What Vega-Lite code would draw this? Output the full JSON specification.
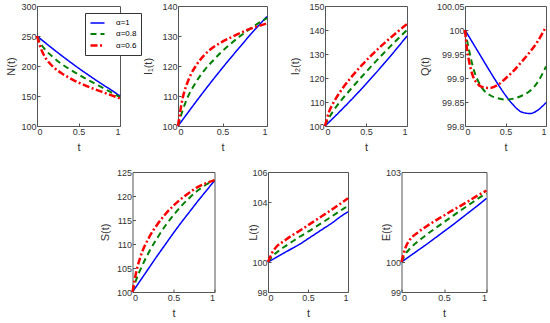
{
"$schema": "https://vega.github.io/schema/vega-lite/v6.json",
"padding": {"left": 4, "top": 1, "right": 2, "bottom": 2},
"background": "white",
"config": {
 "font": "Liberation Sans",
 "view": {"stroke": "#555", "strokeWidth": 1},
 "axis": {"domain": false, "grid": false, "ticks": true, "tickSize": -3, "tickColor": "#555", "labelFontSize": 9, "labelColor": "#333", "labelPadding": 4, "titleFontSize": 11, "titleFontWeight": "normal", "titleColor": "#333", "titlePadding": 5, "labelFont": "Liberation Sans", "titleFont": "Liberation Sans"}
},
"data": {"values": [
{"p":"N","a":"α=1","t":0,"v":250},{"p":"N","a":"α=1","t":0.1,"v":238.7},{"p":"N","a":"α=1","t":0.2,"v":227.7},{"p":"N","a":"α=1","t":0.3,"v":217},{"p":"N","a":"α=1","t":0.4,"v":206.6},{"p":"N","a":"α=1","t":0.5,"v":196.5},{"p":"N","a":"α=1","t":0.6,"v":186.8},{"p":"N","a":"α=1","t":0.7,"v":177.4},{"p":"N","a":"α=1","t":0.8,"v":168.3},{"p":"N","a":"α=1","t":0.9,"v":159.5},{"p":"N","a":"α=1","t":1,"v":150},
{"p":"N","a":"α=0.8","t":0,"v":250},{"p":"N","a":"α=0.8","t":0.05,"v":236},{"p":"N","a":"α=0.8","t":0.1,"v":227},{"p":"N","a":"α=0.8","t":0.2,"v":214},{"p":"N","a":"α=0.8","t":0.3,"v":203},{"p":"N","a":"α=0.8","t":0.4,"v":194},{"p":"N","a":"α=0.8","t":0.5,"v":186},{"p":"N","a":"α=0.8","t":0.6,"v":178},{"p":"N","a":"α=0.8","t":0.7,"v":170.5},{"p":"N","a":"α=0.8","t":0.8,"v":163},{"p":"N","a":"α=0.8","t":0.9,"v":155.5},{"p":"N","a":"α=0.8","t":1,"v":148},
{"p":"N","a":"α=0.6","t":0,"v":250},{"p":"N","a":"α=0.6","t":0.05,"v":228},{"p":"N","a":"α=0.6","t":0.1,"v":214},{"p":"N","a":"α=0.6","t":0.15,"v":205},{"p":"N","a":"α=0.6","t":0.2,"v":198},{"p":"N","a":"α=0.6","t":0.3,"v":187.5},{"p":"N","a":"α=0.6","t":0.4,"v":179.5},{"p":"N","a":"α=0.6","t":0.5,"v":172.5},{"p":"N","a":"α=0.6","t":0.6,"v":166.5},{"p":"N","a":"α=0.6","t":0.7,"v":161},{"p":"N","a":"α=0.6","t":0.8,"v":156},{"p":"N","a":"α=0.6","t":0.9,"v":151},{"p":"N","a":"α=0.6","t":1,"v":146},

{"p":"I1","a":"α=1","t":0,"v":100},{"p":"I1","a":"α=1","t":0.1,"v":104},{"p":"I1","a":"α=1","t":0.2,"v":108},{"p":"I1","a":"α=1","t":0.3,"v":111.9},{"p":"I1","a":"α=1","t":0.4,"v":115.7},{"p":"I1","a":"α=1","t":0.5,"v":119.4},{"p":"I1","a":"α=1","t":0.6,"v":123},{"p":"I1","a":"α=1","t":0.7,"v":126.5},{"p":"I1","a":"α=1","t":0.8,"v":130},{"p":"I1","a":"α=1","t":0.9,"v":133.3},{"p":"I1","a":"α=1","t":1,"v":136.5},
{"p":"I1","a":"α=0.8","t":0,"v":100},{"p":"I1","a":"α=0.8","t":0.05,"v":105},{"p":"I1","a":"α=0.8","t":0.1,"v":109},{"p":"I1","a":"α=0.8","t":0.2,"v":114.5},{"p":"I1","a":"α=0.8","t":0.3,"v":118.7},{"p":"I1","a":"α=0.8","t":0.4,"v":122},{"p":"I1","a":"α=0.8","t":0.5,"v":125},{"p":"I1","a":"α=0.8","t":0.6,"v":127.6},{"p":"I1","a":"α=0.8","t":0.7,"v":130},{"p":"I1","a":"α=0.8","t":0.8,"v":132.2},{"p":"I1","a":"α=0.8","t":0.9,"v":134.2},{"p":"I1","a":"α=0.8","t":1,"v":136},
{"p":"I1","a":"α=0.6","t":0,"v":100},{"p":"I1","a":"α=0.6","t":0.05,"v":109},{"p":"I1","a":"α=0.6","t":0.1,"v":114},{"p":"I1","a":"α=0.6","t":0.15,"v":117.5},{"p":"I1","a":"α=0.6","t":0.2,"v":120},{"p":"I1","a":"α=0.6","t":0.3,"v":123.8},{"p":"I1","a":"α=0.6","t":0.4,"v":126.3},{"p":"I1","a":"α=0.6","t":0.5,"v":128.1},{"p":"I1","a":"α=0.6","t":0.6,"v":129.6},{"p":"I1","a":"α=0.6","t":0.7,"v":131},{"p":"I1","a":"α=0.6","t":0.8,"v":132.3},{"p":"I1","a":"α=0.6","t":0.9,"v":133.3},{"p":"I1","a":"α=0.6","t":1,"v":134.2},

{"p":"I2","a":"α=1","t":0,"v":100},{"p":"I2","a":"α=1","t":0.1,"v":103.3},{"p":"I2","a":"α=1","t":0.2,"v":106.7},{"p":"I2","a":"α=1","t":0.3,"v":110.2},{"p":"I2","a":"α=1","t":0.4,"v":113.8},{"p":"I2","a":"α=1","t":0.5,"v":117.5},{"p":"I2","a":"α=1","t":0.6,"v":121.3},{"p":"I2","a":"α=1","t":0.7,"v":125.2},{"p":"I2","a":"α=1","t":0.8,"v":129.2},{"p":"I2","a":"α=1","t":0.9,"v":133.3},{"p":"I2","a":"α=1","t":1,"v":137.5},
{"p":"I2","a":"α=0.8","t":0,"v":100},{"p":"I2","a":"α=0.8","t":0.05,"v":103.5},{"p":"I2","a":"α=0.8","t":0.1,"v":106.2},{"p":"I2","a":"α=0.8","t":0.2,"v":110.8},{"p":"I2","a":"α=0.8","t":0.3,"v":114.8},{"p":"I2","a":"α=0.8","t":0.4,"v":118.7},{"p":"I2","a":"α=0.8","t":0.5,"v":122.5},{"p":"I2","a":"α=0.8","t":0.6,"v":126.2},{"p":"I2","a":"α=0.8","t":0.7,"v":129.8},{"p":"I2","a":"α=0.8","t":0.8,"v":133.3},{"p":"I2","a":"α=0.8","t":0.9,"v":136.7},{"p":"I2","a":"α=0.8","t":1,"v":140},
{"p":"I2","a":"α=0.6","t":0,"v":100},{"p":"I2","a":"α=0.6","t":0.05,"v":106},{"p":"I2","a":"α=0.6","t":0.1,"v":109.5},{"p":"I2","a":"α=0.6","t":0.2,"v":115},{"p":"I2","a":"α=0.6","t":0.3,"v":119.5},{"p":"I2","a":"α=0.6","t":0.4,"v":123.5},{"p":"I2","a":"α=0.6","t":0.5,"v":127.2},{"p":"I2","a":"α=0.6","t":0.6,"v":130.6},{"p":"I2","a":"α=0.6","t":0.7,"v":133.8},{"p":"I2","a":"α=0.6","t":0.8,"v":136.8},{"p":"I2","a":"α=0.6","t":0.9,"v":139.7},{"p":"I2","a":"α=0.6","t":1,"v":142.5},

{"p":"Q","a":"α=1","t":0,"v":100},{"p":"Q","a":"α=1","t":0.1,"v":99.972},{"p":"Q","a":"α=1","t":0.2,"v":99.944},{"p":"Q","a":"α=1","t":0.3,"v":99.916},{"p":"Q","a":"α=1","t":0.4,"v":99.889},{"p":"Q","a":"α=1","t":0.5,"v":99.864},{"p":"Q","a":"α=1","t":0.6,"v":99.843},{"p":"Q","a":"α=1","t":0.7,"v":99.829},{"p":"Q","a":"α=1","t":0.8,"v":99.826},{"p":"Q","a":"α=1","t":0.9,"v":99.833},{"p":"Q","a":"α=1","t":1,"v":99.849},
{"p":"Q","a":"α=0.8","t":0,"v":100},{"p":"Q","a":"α=0.8","t":0.05,"v":99.958},{"p":"Q","a":"α=0.8","t":0.1,"v":99.922},{"p":"Q","a":"α=0.8","t":0.2,"v":99.882},{"p":"Q","a":"α=0.8","t":0.3,"v":99.865},{"p":"Q","a":"α=0.8","t":0.4,"v":99.858},{"p":"Q","a":"α=0.8","t":0.5,"v":99.855},{"p":"Q","a":"α=0.8","t":0.6,"v":99.857},{"p":"Q","a":"α=0.8","t":0.7,"v":99.863},{"p":"Q","a":"α=0.8","t":0.8,"v":99.873},{"p":"Q","a":"α=0.8","t":0.9,"v":99.892},{"p":"Q","a":"α=0.8","t":1,"v":99.924},
{"p":"Q","a":"α=0.6","t":0,"v":100},{"p":"Q","a":"α=0.6","t":0.025,"v":99.96},{"p":"Q","a":"α=0.6","t":0.05,"v":99.935},{"p":"Q","a":"α=0.6","t":0.1,"v":99.903},{"p":"Q","a":"α=0.6","t":0.15,"v":99.889},{"p":"Q","a":"α=0.6","t":0.2,"v":99.882},{"p":"Q","a":"α=0.6","t":0.3,"v":99.879},{"p":"Q","a":"α=0.6","t":0.4,"v":99.885},{"p":"Q","a":"α=0.6","t":0.5,"v":99.899},{"p":"Q","a":"α=0.6","t":0.6,"v":99.915},{"p":"Q","a":"α=0.6","t":0.7,"v":99.934},{"p":"Q","a":"α=0.6","t":0.8,"v":99.954},{"p":"Q","a":"α=0.6","t":0.9,"v":99.977},{"p":"Q","a":"α=0.6","t":1,"v":100.007},

{"p":"S","a":"α=1","t":0,"v":100},{"p":"S","a":"α=1","t":0.1,"v":102.5},{"p":"S","a":"α=1","t":0.2,"v":105},{"p":"S","a":"α=1","t":0.3,"v":107.5},{"p":"S","a":"α=1","t":0.4,"v":109.9},{"p":"S","a":"α=1","t":0.5,"v":112.3},{"p":"S","a":"α=1","t":0.6,"v":114.6},{"p":"S","a":"α=1","t":0.7,"v":116.8},{"p":"S","a":"α=1","t":0.8,"v":119},{"p":"S","a":"α=1","t":0.9,"v":121.1},{"p":"S","a":"α=1","t":1,"v":123.2},
{"p":"S","a":"α=0.8","t":0,"v":100},{"p":"S","a":"α=0.8","t":0.05,"v":102.8},{"p":"S","a":"α=0.8","t":0.1,"v":104.8},{"p":"S","a":"α=0.8","t":0.2,"v":108.3},{"p":"S","a":"α=0.8","t":0.3,"v":111.2},{"p":"S","a":"α=0.8","t":0.4,"v":113.8},{"p":"S","a":"α=0.8","t":0.5,"v":116},{"p":"S","a":"α=0.8","t":0.6,"v":118},{"p":"S","a":"α=0.8","t":0.7,"v":119.7},{"p":"S","a":"α=0.8","t":0.8,"v":121.2},{"p":"S","a":"α=0.8","t":0.9,"v":122.4},{"p":"S","a":"α=0.8","t":1,"v":123.3},
{"p":"S","a":"α=0.6","t":0,"v":100},{"p":"S","a":"α=0.6","t":0.05,"v":104.5},{"p":"S","a":"α=0.6","t":0.1,"v":107.5},{"p":"S","a":"α=0.6","t":0.2,"v":111.3},{"p":"S","a":"α=0.6","t":0.3,"v":114},{"p":"S","a":"α=0.6","t":0.4,"v":116.2},{"p":"S","a":"α=0.6","t":0.5,"v":118},{"p":"S","a":"α=0.6","t":0.6,"v":119.5},{"p":"S","a":"α=0.6","t":0.7,"v":120.8},{"p":"S","a":"α=0.6","t":0.8,"v":121.9},{"p":"S","a":"α=0.6","t":0.9,"v":122.7},{"p":"S","a":"α=0.6","t":1,"v":123.3},

{"p":"L","a":"α=1","t":0,"v":100},{"p":"L","a":"α=1","t":0.1,"v":100.3},{"p":"L","a":"α=1","t":0.2,"v":100.6},{"p":"L","a":"α=1","t":0.3,"v":100.9},{"p":"L","a":"α=1","t":0.4,"v":101.2},{"p":"L","a":"α=1","t":0.5,"v":101.55},{"p":"L","a":"α=1","t":0.6,"v":101.9},{"p":"L","a":"α=1","t":0.7,"v":102.25},{"p":"L","a":"α=1","t":0.8,"v":102.6},{"p":"L","a":"α=1","t":0.9,"v":103},{"p":"L","a":"α=1","t":1,"v":103.35},
{"p":"L","a":"α=0.8","t":0,"v":100},{"p":"L","a":"α=0.8","t":0.05,"v":100.35},{"p":"L","a":"α=0.8","t":0.1,"v":100.6},{"p":"L","a":"α=0.8","t":0.2,"v":101},{"p":"L","a":"α=0.8","t":0.3,"v":101.35},{"p":"L","a":"α=0.8","t":0.4,"v":101.7},{"p":"L","a":"α=0.8","t":0.5,"v":102.02},{"p":"L","a":"α=0.8","t":0.6,"v":102.36},{"p":"L","a":"α=0.8","t":0.7,"v":102.7},{"p":"L","a":"α=0.8","t":0.8,"v":103.05},{"p":"L","a":"α=0.8","t":0.9,"v":103.4},{"p":"L","a":"α=0.8","t":1,"v":103.75},
{"p":"L","a":"α=0.6","t":0,"v":100},{"p":"L","a":"α=0.6","t":0.05,"v":100.6},{"p":"L","a":"α=0.6","t":0.1,"v":100.98},{"p":"L","a":"α=0.6","t":0.2,"v":101.4},{"p":"L","a":"α=0.6","t":0.3,"v":101.77},{"p":"L","a":"α=0.6","t":0.4,"v":102.1},{"p":"L","a":"α=0.6","t":0.5,"v":102.45},{"p":"L","a":"α=0.6","t":0.6,"v":102.8},{"p":"L","a":"α=0.6","t":0.7,"v":103.15},{"p":"L","a":"α=0.6","t":0.8,"v":103.5},{"p":"L","a":"α=0.6","t":0.9,"v":103.87},{"p":"L","a":"α=0.6","t":1,"v":104.25},

{"p":"E","a":"α=1","t":0,"v":100},{"p":"E","a":"α=1","t":0.1,"v":100.2},{"p":"E","a":"α=1","t":0.2,"v":100.4},{"p":"E","a":"α=1","t":0.3,"v":100.6},{"p":"E","a":"α=1","t":0.4,"v":100.81},{"p":"E","a":"α=1","t":0.5,"v":101.02},{"p":"E","a":"α=1","t":0.6,"v":101.23},{"p":"E","a":"α=1","t":0.7,"v":101.45},{"p":"E","a":"α=1","t":0.8,"v":101.67},{"p":"E","a":"α=1","t":0.9,"v":101.89},{"p":"E","a":"α=1","t":1,"v":102.12},
{"p":"E","a":"α=0.8","t":0,"v":100},{"p":"E","a":"α=0.8","t":0.05,"v":100.28},{"p":"E","a":"α=0.8","t":0.1,"v":100.45},{"p":"E","a":"α=0.8","t":0.2,"v":100.7},{"p":"E","a":"α=0.8","t":0.3,"v":100.92},{"p":"E","a":"α=0.8","t":0.4,"v":101.13},{"p":"E","a":"α=0.8","t":0.5,"v":101.33},{"p":"E","a":"α=0.8","t":0.6,"v":101.53},{"p":"E","a":"α=0.8","t":0.7,"v":101.73},{"p":"E","a":"α=0.8","t":0.8,"v":101.92},{"p":"E","a":"α=0.8","t":0.9,"v":102.11},{"p":"E","a":"α=0.8","t":1,"v":102.29},
{"p":"E","a":"α=0.6","t":0,"v":100},{"p":"E","a":"α=0.6","t":0.05,"v":100.5},{"p":"E","a":"α=0.6","t":0.1,"v":100.75},{"p":"E","a":"α=0.6","t":0.2,"v":101},{"p":"E","a":"α=0.6","t":0.3,"v":101.2},{"p":"E","a":"α=0.6","t":0.4,"v":101.38},{"p":"E","a":"α=0.6","t":0.5,"v":101.55},{"p":"E","a":"α=0.6","t":0.6,"v":101.72},{"p":"E","a":"α=0.6","t":0.7,"v":101.88},{"p":"E","a":"α=0.6","t":0.8,"v":102.05},{"p":"E","a":"α=0.6","t":0.9,"v":102.22},{"p":"E","a":"α=0.6","t":1,"v":102.38}
]},
"spacing": 14,
"resolve": {"scale": {"color": "independent", "strokeDash": "independent", "strokeWidth": "independent"}},
"vconcat": [
{"hconcat": [
 {"width": 83, "height": 120, "transform": [{"filter": "datum.p == 'N'"}],
  "mark": {"type": "line", "interpolate": "monotone"},
  "encoding": {
   "x": {"field": "t", "type": "quantitative", "scale": {"domain": [0, 1], "nice": false}, "axis": {"values": [0, 0.5, 1], "format": ".2~g", "title": "t"}},
   "y": {"field": "v", "type": "quantitative", "scale": {"domain": [100, 300], "nice": false, "zero": false}, "axis": {"values": [100, 150, 200, 250, 300], "format": ".6~g", "title": "N(t)", "titleX": -21}},
   "color": {"field": "a", "type": "nominal", "scale": {"domain": ["α=1", "α=0.8", "α=0.6"], "range": ["#0000ff", "#008000", "#ff0000"]},
     "legend": {"orient": "none", "legendX": 48, "legendY": 7, "title": null, "symbolType": "M-1.4,0H1.4", "symbolSize": 100, "symbolStrokeWidth": 2, "symbolOffset": 2, "labelOffset": 12, "labelFontSize": 8, "labelFont": "Liberation Sans", "labelColor": "#000", "padding": 4, "rowPadding": 1, "strokeColor": "#333", "fillColor": "#fff"}},
   "strokeDash": {"field": "a", "type": "nominal", "scale": {"domain": ["α=1", "α=0.8", "α=0.6"], "range": [[1, 0], [6, 4], [7, 2.5, 2, 2.5]]},
     "legend": {"orient": "none", "legendX": 48, "legendY": 7, "title": null, "symbolType": "M-1.4,0H1.4", "symbolSize": 100, "symbolStrokeWidth": 2, "symbolOffset": 2, "labelOffset": 12, "labelFontSize": 8, "labelFont": "Liberation Sans", "labelColor": "#000", "padding": 4, "rowPadding": 1, "strokeColor": "#333", "fillColor": "#fff"}},
   "strokeWidth": {"field": "a", "type": "ordinal", "scale": {"domain": ["α=1", "α=0.8", "α=0.6"], "range": [1.5, 2.5, 2.5]}, "legend": null}
  }},
 {"width": 89, "height": 120, "transform": [{"filter": "datum.p == 'I1'"}],
  "mark": {"type": "line", "interpolate": "monotone"},
  "encoding": {
   "x": {"field": "t", "type": "quantitative", "scale": {"domain": [0, 1], "nice": false}, "axis": {"values": [0, 0.5, 1], "format": ".2~g", "title": "t"}},
   "y": {"field": "v", "type": "quantitative", "scale": {"domain": [100, 140], "nice": false, "zero": false}, "axis": {"values": [100, 110, 120, 130, 140], "format": ".6~g", "title": "I₁(t)", "titleX": -25}},
   "color": {"field": "a", "type": "nominal", "scale": {"domain": ["α=1", "α=0.8", "α=0.6"], "range": ["#0000ff", "#008000", "#ff0000"]}, "legend": null},
   "strokeDash": {"field": "a", "type": "nominal", "scale": {"domain": ["α=1", "α=0.8", "α=0.6"], "range": [[1, 0], [6, 4], [7, 2.5, 2, 2.5]]}, "legend": null},
   "strokeWidth": {"field": "a", "type": "ordinal", "scale": {"domain": ["α=1", "α=0.8", "α=0.6"], "range": [1.5, 2.5, 2.5]}, "legend": null}
  }},
 {"width": 82, "height": 120, "transform": [{"filter": "datum.p == 'I2'"}],
  "mark": {"type": "line", "interpolate": "monotone"},
  "encoding": {
   "x": {"field": "t", "type": "quantitative", "scale": {"domain": [0, 1], "nice": false}, "axis": {"values": [0, 0.5, 1], "format": ".2~g", "title": "t"}},
   "y": {"field": "v", "type": "quantitative", "scale": {"domain": [100, 150], "nice": false, "zero": false}, "axis": {"values": [100, 110, 120, 130, 140, 150], "format": ".6~g", "title": "I₂(t)", "titleX": -25}},
   "color": {"field": "a", "type": "nominal", "scale": {"domain": ["α=1", "α=0.8", "α=0.6"], "range": ["#0000ff", "#008000", "#ff0000"]}, "legend": null},
   "strokeDash": {"field": "a", "type": "nominal", "scale": {"domain": ["α=1", "α=0.8", "α=0.6"], "range": [[1, 0], [6, 4], [7, 2.5, 2, 2.5]]}, "legend": null},
   "strokeWidth": {"field": "a", "type": "ordinal", "scale": {"domain": ["α=1", "α=0.8", "α=0.6"], "range": [1.5, 2.5, 2.5]}, "legend": null}
  }},
 {"width": 81, "height": 120, "transform": [{"filter": "datum.p == 'Q'"}],
  "mark": {"type": "line", "interpolate": "monotone"},
  "encoding": {
   "x": {"field": "t", "type": "quantitative", "scale": {"domain": [0, 1], "nice": false}, "axis": {"values": [0, 0.5, 1], "format": ".2~g", "title": "t"}},
   "y": {"field": "v", "type": "quantitative", "scale": {"domain": [99.8, 100.05], "nice": false, "zero": false}, "axis": {"values": [99.8, 99.85, 99.9, 99.95, 100, 100.05], "format": ".6~g", "title": "Q(t)", "titleX": -35}},
   "color": {"field": "a", "type": "nominal", "scale": {"domain": ["α=1", "α=0.8", "α=0.6"], "range": ["#0000ff", "#008000", "#ff0000"]}, "legend": null},
   "strokeDash": {"field": "a", "type": "nominal", "scale": {"domain": ["α=1", "α=0.8", "α=0.6"], "range": [[1, 0], [6, 4], [7, 2.5, 2, 2.5]]}, "legend": null},
   "strokeWidth": {"field": "a", "type": "ordinal", "scale": {"domain": ["α=1", "α=0.8", "α=0.6"], "range": [1.5, 2.5, 2.5]}, "legend": null}
  }}
 ], "spacing": 58, "bounds": "flush",
 "resolve": {"scale": {"color": "independent", "strokeDash": "independent", "strokeWidth": "independent"}}},
{"hconcat": [
 {"width": 41.5, "height": 120, "data": {"values": []}, "mark": {"type": "point", "opacity": 0}, "view": {"stroke": null}},
 {"width": 82, "height": 120, "transform": [{"filter": "datum.p == 'S'"}],
  "mark": {"type": "line", "interpolate": "monotone"},
  "encoding": {
   "x": {"field": "t", "type": "quantitative", "scale": {"domain": [0, 1], "nice": false}, "axis": {"values": [0, 0.5, 1], "format": ".2~g", "title": "t"}},
   "y": {"field": "v", "type": "quantitative", "scale": {"domain": [100, 125], "nice": false, "zero": false}, "axis": {"values": [100, 105, 110, 115, 120, 125], "format": ".6~g", "title": "S(t)", "titleX": -22}},
   "color": {"field": "a", "type": "nominal", "scale": {"domain": ["α=1", "α=0.8", "α=0.6"], "range": ["#0000ff", "#008000", "#ff0000"]}, "legend": null},
   "strokeDash": {"field": "a", "type": "nominal", "scale": {"domain": ["α=1", "α=0.8", "α=0.6"], "range": [[1, 0], [6, 4], [7, 2.5, 2, 2.5]]}, "legend": null},
   "strokeWidth": {"field": "a", "type": "ordinal", "scale": {"domain": ["α=1", "α=0.8", "α=0.6"], "range": [1.5, 2.5, 2.5]}, "legend": null}
  }},
 {"width": 80, "height": 120, "transform": [{"filter": "datum.p == 'L'"}],
  "mark": {"type": "line", "interpolate": "monotone"},
  "encoding": {
   "x": {"field": "t", "type": "quantitative", "scale": {"domain": [0, 1], "nice": false}, "axis": {"values": [0, 0.5, 1], "format": ".2~g", "title": "t"}},
   "y": {"field": "v", "type": "quantitative", "scale": {"domain": [98, 106], "nice": false, "zero": false}, "axis": {"values": [98, 100, 104, 106], "format": ".6~g", "title": "L(t)", "titleX": -10}},
   "color": {"field": "a", "type": "nominal", "scale": {"domain": ["α=1", "α=0.8", "α=0.6"], "range": ["#0000ff", "#008000", "#ff0000"]}, "legend": null},
   "strokeDash": {"field": "a", "type": "nominal", "scale": {"domain": ["α=1", "α=0.8", "α=0.6"], "range": [[1, 0], [6, 4], [7, 2.5, 2, 2.5]]}, "legend": null},
   "strokeWidth": {"field": "a", "type": "ordinal", "scale": {"domain": ["α=1", "α=0.8", "α=0.6"], "range": [1.5, 2.5, 2.5]}, "legend": null}
  }},
 {"width": 85, "height": 120, "transform": [{"filter": "datum.p == 'E'"}],
  "mark": {"type": "line", "interpolate": "monotone"},
  "encoding": {
   "x": {"field": "t", "type": "quantitative", "scale": {"domain": [0, 1], "nice": false}, "axis": {"values": [0, 0.5, 1], "format": ".2~g", "title": "t"}},
   "y": {"field": "v", "type": "quantitative", "scale": {"domain": [99, 103], "nice": false, "zero": false}, "axis": {"values": [99, 100, 103], "format": ".6~g", "title": "E(t)", "titleX": -10}},
   "color": {"field": "a", "type": "nominal", "scale": {"domain": ["α=1", "α=0.8", "α=0.6"], "range": ["#0000ff", "#008000", "#ff0000"]}, "legend": null},
   "strokeDash": {"field": "a", "type": "nominal", "scale": {"domain": ["α=1", "α=0.8", "α=0.6"], "range": [[1, 0], [6, 4], [7, 2.5, 2, 2.5]]}, "legend": null},
   "strokeWidth": {"field": "a", "type": "ordinal", "scale": {"domain": ["α=1", "α=0.8", "α=0.6"], "range": [1.5, 2.5, 2.5]}, "legend": null}
  }}
 ], "spacing": 53.5, "bounds": "flush",
 "resolve": {"scale": {"color": "independent", "strokeDash": "independent", "strokeWidth": "independent"}}}
]
}
